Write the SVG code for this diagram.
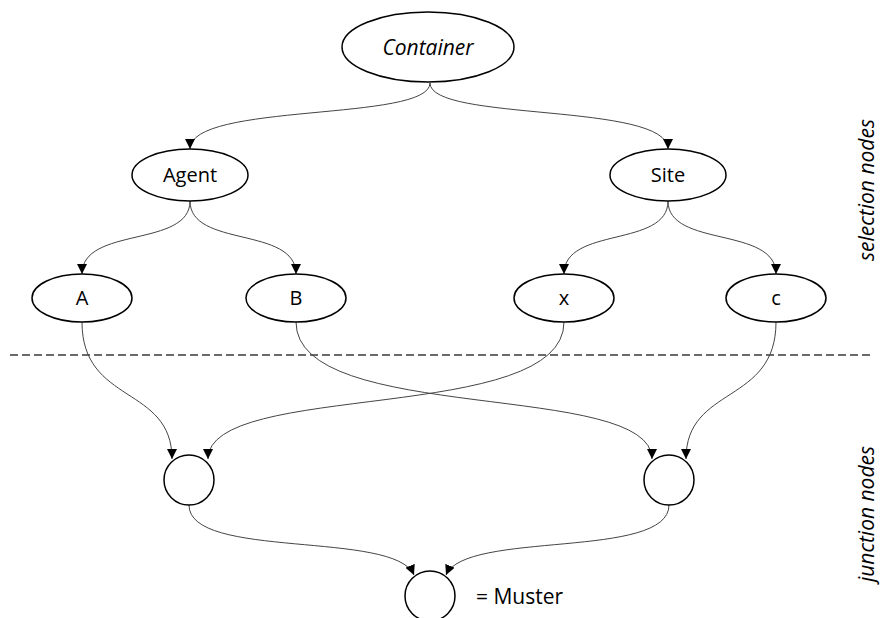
<svg xmlns="http://www.w3.org/2000/svg" width="880" height="618" viewBox="0 0 880 618">
<style>
.n{fill:#fff;stroke:#000;stroke-width:1.5}
.e{fill:none;stroke:#444;stroke-width:1}
.t{font-family:"Open Sans","Liberation Sans",sans-serif;font-size:20px;fill:#000;text-anchor:middle}
.i{font-style:italic}
</style>
<defs>
<marker id="ah" viewBox="0 0 10 10" refX="10" refY="5" markerWidth="10" markerHeight="10" markerUnits="userSpaceOnUse" orient="auto">
<path d="M0,0 L10,5 L0,10 z" fill="#000"/>
</marker>
</defs>
<line x1="10" y1="355" x2="870" y2="355" stroke="#6a6a6a" stroke-width="2" stroke-dasharray="8,4"/>
<g id="connectors">
<path class="e" marker-end="url(#ah)" d="M430,83 C430,122 190,102 190,149"/>
<path class="e" marker-end="url(#ah)" d="M430,83 C430,122 668,102 668,149"/>
<path class="e" marker-end="url(#ah)" d="M190,201 C190,248 82,226 82,274"/>
<path class="e" marker-end="url(#ah)" d="M190,201 C190,248 296,226 296,274"/>
<path class="e" marker-end="url(#ah)" d="M668,201 C668,248 564,226 564,274"/>
<path class="e" marker-end="url(#ah)" d="M668,201 C668,248 776,226 776,274"/>
<path class="e" marker-end="url(#ah)" d="M82,322 C82,405 172,385 172,459"/>
<path class="e" marker-end="url(#ah)" d="M564,322 C564,425 208,380 208,459"/>
<path class="e" marker-end="url(#ah)" d="M296,322 C296,425 652,380 652,459"/>
<path class="e" marker-end="url(#ah)" d="M776,322 C776,405 686,385 686,459"/>
<path class="e" marker-end="url(#ah)" d="M189,505 C189,560 395,530 414,575"/>
<path class="e" marker-end="url(#ah)" d="M669,505 C669,560 465,530 446,575"/>
</g>
<g id="container"><ellipse class="n" cx="428" cy="47" rx="86" ry="35"/><text class="t i" x="428" y="55" style="font-size:21px">Container</text></g>
<g id="agent"><ellipse class="n" cx="190" cy="175" rx="58" ry="26"/><text class="t" x="190" y="182">Agent</text></g>
<g id="site"><ellipse class="n" cx="668" cy="175" rx="58" ry="26"/><text class="t" x="668" y="182">Site</text></g>
<g id="a"><ellipse class="n" cx="82" cy="298" rx="50" ry="24"/><text class="t" x="82" y="305">A</text></g>
<g id="b"><ellipse class="n" cx="296" cy="298" rx="50" ry="24"/><text class="t" x="296" y="305">B</text></g>
<g id="x"><ellipse class="n" cx="564" cy="298" rx="50" ry="24"/><text class="t" x="564" y="305">x</text></g>
<g id="c"><ellipse class="n" cx="776" cy="298" rx="50" ry="24"/><text class="t" x="776" y="305">c</text></g>
<g id="j1"><circle class="n" cx="189" cy="480" r="25"/></g>
<g id="j2"><circle class="n" cx="669" cy="480" r="25"/></g>
<g id="muster"><circle class="n" cx="430" cy="596" r="25"/><text class="t" x="476" y="604" style="text-anchor:start;font-size:21px">= Muster</text></g>
<text class="t i" transform="translate(874,190) rotate(-90)" style="font-size:21px">selection nodes</text>
<text class="t i" transform="translate(874,514) rotate(-90)" style="font-size:21px">junction nodes</text>
</svg>
